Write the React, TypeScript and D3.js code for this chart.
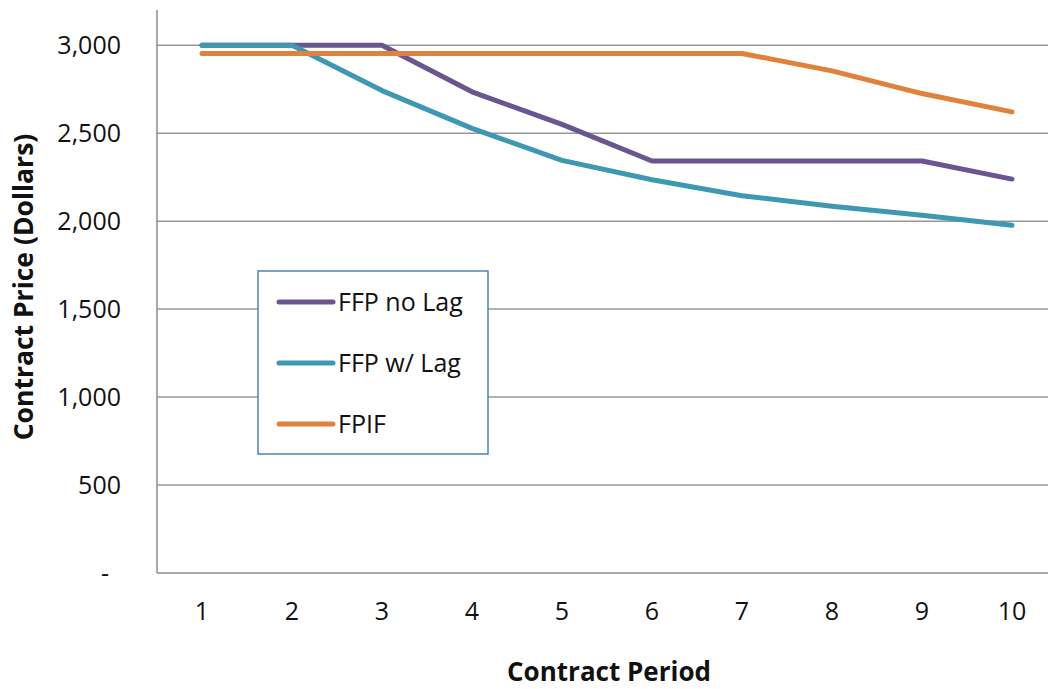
import { useEffect, useRef } from 'react';
import * as d3 from 'd3';

const periods = [1, 2, 3, 4, 5, 6, 7, 8, 9, 10];
const ffpNoLag = [3000, 3000, 3000, 2735, 2550, 2342, 2342, 2342, 2342, 2239];
const ffpWithLag = [3000, 3000, 2742, 2527, 2345, 2235, 2144, 2085, 2034, 1976];
const fpif = [2953, 2953, 2953, 2953, 2953, 2953, 2953, 2854, 2725, 2621];
const yTicks = [0, 500, 1000, 1500, 2000, 2500, 3000];

const seriesList = [
  { name: 'FFP no Lag', values: ffpNoLag, color: '#6a5590' },
  { name: 'FFP w/ Lag', values: ffpWithLag, color: '#3d98b1' },
  { name: 'FPIF', values: fpif, color: '#e0823b' },
];

const FONT = "'Open Sans', 'Noto Sans', sans-serif";

export default function App() {
  const svgRef = useRef<SVGSVGElement | null>(null);

  useEffect(() => {
    if (!svgRef.current) return;
    const svg = d3.select(svgRef.current);
    svg.selectAll('*').remove();

    const W = 1048;
    const H = 689;
    const left = 157;
    const top = 10;
    const bottom = 573;
    const step = 90;

    svg.attr('width', W).attr('height', H).style('font-family', FONT);

    const xScale = d3
      .scaleBand<number>()
      .domain(periods)
      .range([left, left + step * periods.length]);
    const xc = (p: number) => (xScale(p) ?? 0) + xScale.bandwidth() / 2;

    const yScale = d3.scaleLinear().domain([0, 3200]).range([bottom, top]);

    // Grid lines
    svg
      .selectAll('.grid')
      .data(yTicks.filter((t) => t > 0))
      .enter()
      .append('line')
      .attr('x1', left)
      .attr('x2', left + step * periods.length)
      .attr('y1', (d) => yScale(d))
      .attr('y2', (d) => yScale(d))
      .attr('stroke', '#979797')
      .attr('stroke-width', 1.5);

    // Axis lines
    svg
      .append('line')
      .attr('x1', left)
      .attr('x2', left)
      .attr('y1', yScale(3200))
      .attr('y2', yScale(0))
      .attr('stroke', '#8c8c8c')
      .attr('stroke-width', 1.5);
    svg
      .append('line')
      .attr('x1', left)
      .attr('x2', left + step * periods.length)
      .attr('y1', yScale(0))
      .attr('y2', yScale(0))
      .attr('stroke', '#8c8c8c')
      .attr('stroke-width', 1.5);

    // Y tick labels
    svg
      .selectAll('.ylab')
      .data(yTicks)
      .enter()
      .append('text')
      .attr('x', (d) => (d === 0 ? 109 : 121))
      .attr('y', (d) => yScale(d))
      .attr('dy', '0.35em')
      .attr('text-anchor', 'end')
      .attr('font-size', 25)
      .attr('fill', '#111')
      .text((d) => (d === 0 ? '-' : d3.format(',')(d)));

    // X tick labels
    svg
      .selectAll('.xlab')
      .data(periods)
      .enter()
      .append('text')
      .attr('x', (d) => xc(d))
      .attr('y', 620)
      .attr('text-anchor', 'middle')
      .attr('font-size', 25)
      .attr('fill', '#111')
      .text((d) => String(d));

    // Axis titles
    svg
      .append('text')
      .attr('transform', `translate(33,287) rotate(-90)`)
      .attr('text-anchor', 'middle')
      .attr('font-size', 26.5)
      .attr('font-weight', 700)
      .attr('fill', '#111')
      .text('Contract Price (Dollars)');
    svg
      .append('text')
      .attr('x', 609)
      .attr('y', 681)
      .attr('text-anchor', 'middle')
      .attr('font-size', 26)
      .attr('font-weight', 700)
      .attr('fill', '#111')
      .text('Contract Period');

    // Lines
    const lineGen = d3
      .line<number>()
      .x((_d, i) => xc(periods[i]))
      .y((d) => yScale(d));

    seriesList.forEach((s) => {
      svg
        .append('path')
        .datum(s.values)
        .attr('fill', 'none')
        .attr('stroke', s.color)
        .attr('stroke-width', 5)
        .attr('stroke-linecap', 'round')
        .attr('stroke-linejoin', 'round')
        .attr('d', lineGen);
    });

    // Legend
    const lg = svg.append('g').attr('transform', 'translate(258,271)');
    lg.append('rect')
      .attr('width', 230)
      .attr('height', 183)
      .attr('fill', '#fff')
      .attr('stroke', '#4f81bd')
      .attr('stroke-width', 1.5);
    seriesList.forEach((s, i) => {
      const y = 31 + i * 61;
      lg.append('line')
        .attr('x1', 21)
        .attr('x2', 75)
        .attr('y1', y)
        .attr('y2', y)
        .attr('stroke', s.color)
        .attr('stroke-width', 5)
        .attr('stroke-linecap', 'round');
      lg.append('text')
        .attr('x', 80)
        .attr('y', y)
        .attr('dy', '0.35em')
        .attr('font-size', 25)
        .attr('fill', '#111')
        .text(s.name);
    });
  }, []);

  return (
    <div style={{ position: 'absolute', left: 0, top: 0, width: 1048, height: 689, overflow: 'hidden' }}>
      <svg ref={svgRef} />
    </div>
  );
}
